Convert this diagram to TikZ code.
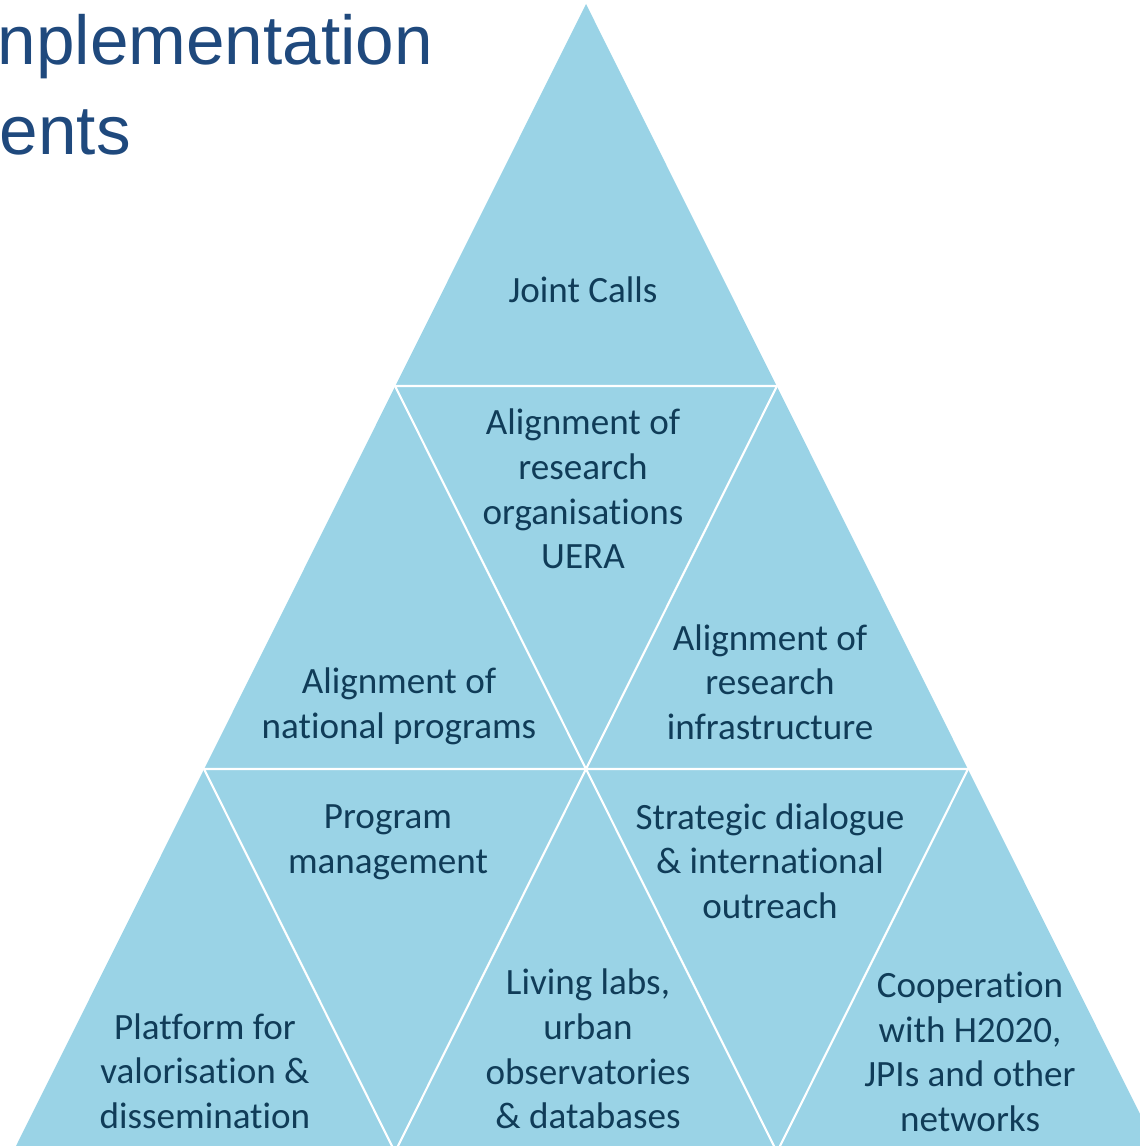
\documentclass[tikz,border=0pt]{standalone}
\usepackage{fontspec}
\setmainfont{Carlito}[Ligatures=NoCommon]
\newfontfamily\titlefont{Liberation Sans}
\definecolor{pyrfill}{RGB}{154,211,230}
\definecolor{pyrtext}{RGB}{16,60,88}
\definecolor{titleblue}{RGB}{31,73,125}

\begin{document}
\begin{tikzpicture}[x=0.01cm,y=-0.01cm,
    lbl/.style={align=center,text=pyrtext,inner sep=0pt,
      font=\fontsize{10.55}{12.7}\selectfont},
    ttl/.style={anchor=base west,inner sep=0pt,text=titleblue,
      font=\titlefont\fontsize{19.7}{24}\selectfont}]
          \useasboundingbox (0,0) rectangle (1140,1146);

          \node[ttl] (ttla) at (-3,65) {nplementation};
          \node[ttl] (ttlb) at (-1,155) {ents};

          \coordinate (a) at (586,4);
          \coordinate (b1) at (395,386);
          \coordinate (b2) at (777,386);
          \coordinate (c1) at (204,769);
          \coordinate (c2) at (586,769);
          \coordinate (c3) at (968,769);
          \coordinate (d1) at (13,1152);
          \coordinate (d2) at (395,1152);
          \coordinate (d3) at (777,1152);
          \coordinate (d4) at (1159,1152);

          \fill[pyrfill] (a) -- (d1) -- (d4) -- cycle;
          \draw[white,line width=0.6pt] (b1) -- (b2)
          (c1) -- (c3)
          (b1) -- (c2) -- (b2)
          (c1) -- (d2) -- (c2) -- (d3) -- (c3);

          \node[lbl] (joint) at (583,290) {Joint Calls};
          \node[lbl] (uera) at (583,489) {Alignment of\\research\\organisations\\UERA};
          \node[lbl] (natprog) at (399,706) {Alignment of\\national programs};
          \node[lbl] (infra) at (770,682) {Alignment of\\research\\infrastructure};
          \node[lbl] (progman) at (388,842) {Program\\management};
          \node[lbl] (dialog) at (770,861) {Strategic dialogue\\\& international\\outreach};
          \node[lbl] (platf) at (205,1071) {Platform for\\valorisation \&\\dissemination};
          \node[lbl] (living) at (588,1049) {Living labs,\\urban\\observatories\\\& databases};
          \node[lbl] (coop) at (970,1052) {Cooperation\\with H2020,\\JPIs and other\\networks};
        \end{tikzpicture}
\end{document}
